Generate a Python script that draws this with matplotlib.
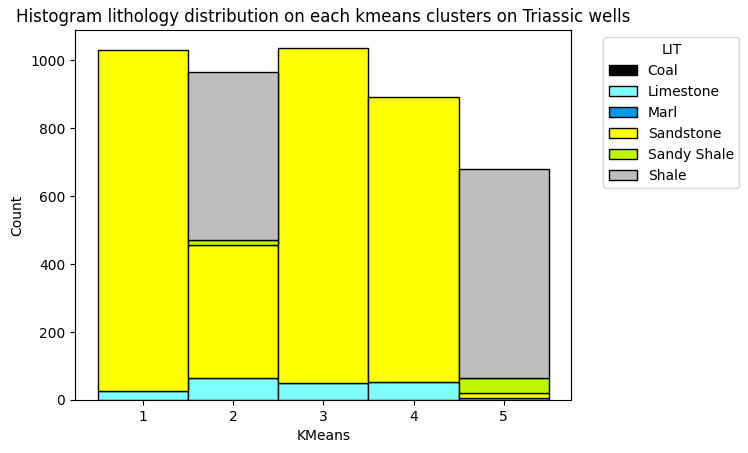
import matplotlib
matplotlib.use("Agg")
import matplotlib.pyplot as plt
from matplotlib.patches import Patch
import numpy as np

clusters = [1, 2, 3, 4, 5]
lithologies = ["Coal", "Limestone", "Marl", "Sandstone", "Sandy Shale", "Shale"]
colors = ["#000000", "#80ffff", "#0099e6", "#ffff00", "#c0f500", "#bebebe"]

coal = [0, 0, 0, 0, 0]
limestone = [27, 66, 49, 52, 5]
marl = [0, 0, 0, 0, 0]
sandstone = [1004, 389, 987, 841, 15]
sandy_shale = [0, 17, 0, 0, 46]
shale = [0, 492, 0, 0, 613]
counts = [coal, limestone, marl, sandstone, sandy_shale, shale]

fig, ax = plt.subplots(figsize=(7.48, 4.53), dpi=100)
x = np.array(clusters)
bottom = np.zeros(len(clusters))
handles = []
for name, col, vals in zip(lithologies, colors, counts):
    vals = np.array(vals, dtype=float)
    keep = vals > 0
    if keep.any():
        ax.bar(x[keep], vals[keep], width=1.0, bottom=bottom[keep], color=col,
               edgecolor="black", linewidth=1)
    bottom += vals
    handles.append(Patch(facecolor=col, edgecolor="black", linewidth=1, label=name))

ax.set_xlim(0.25, 5.75)
ax.set_ylim(0, bottom.max() * 1.05)
ax.set_xlabel("KMeans")
ax.set_ylabel("Count")
ax.set_title("Histogram lithology distribution on each kmeans clusters on Triassic wells")
ax.set_xticks(clusters)
ax.legend(handles=handles, title="LIT", bbox_to_anchor=(1.05, 1), loc="upper left")
fig.subplots_adjust(left=0.1003, right=0.764, top=0.933, bottom=0.117)
fig.savefig("out.png", dpi=100)
